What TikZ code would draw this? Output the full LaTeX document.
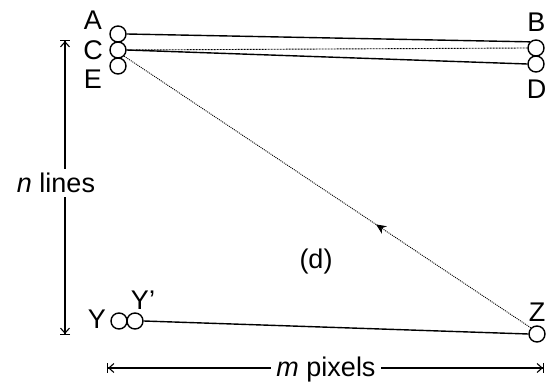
\documentclass[tikz,border=0pt]{standalone}
\usepackage{fontspec}
\setmainfont{Liberation Sans}
\usetikzlibrary{arrows.meta,decorations.markings}
\begin{document}
\begin{tikzpicture}[x=1pt,y=-1pt,
  pin/.style={circle,draw,line width=1.4pt,minimum size=16pt,inner sep=0pt},
  lbl/.style={font=\fontsize{27}{30}\selectfont,inner sep=0pt},
  wire/.style={line width=1.4pt},
  dim/.style={line width=1.1pt,{Bar[width=10pt]Straight Barb[length=5pt,width=9pt]}-{Straight Barb[length=5pt,width=9pt]Bar[width=10pt]}}]
\useasboundingbox (0,0) rectangle (547,387);
\node[pin] (A) at (118,34) {};
\node[pin] (C) at (118,50) {};
\node[pin] (E) at (118,66) {};
\node[pin] (B) at (536,48) {};
\node[pin] (D) at (536,64) {};
\node[pin] (Y) at (119,321) {};
\node[pin] (Yp) at (135,321) {};
\node[pin] (Z) at (537,334) {};
\node[lbl] (lA) at (93,20) {A};
\node[lbl] (lC) at (93,50) {C};
\node[lbl] (lE) at (93,79) {E};
\node[lbl] (lB) at (536.5,22) {B};
\node[lbl] (lD) at (536.5,89) {D};
\node[lbl] (lY) at (97,319) {Y};
\node[lbl] (lYp) at (143,300) {Y\char"0027};
\node[lbl] (lZ) at (537,312) {Z};
\node[lbl] (ld) at (316,262) {(d)};
\coordinate (vt) at (65,40);
\coordinate (vb) at (65,335);
\coordinate (hl) at (107,368);
\coordinate (hr) at (544,368);
\draw[wire] (A.east) -- (B.north west);
\draw[wire] (C.east) -- (D.west);
\draw[line width=0.9pt,dash pattern=on 2pt off 1pt] (C.east) -- (B.west);
\draw[line width=0.9pt,dash pattern=on 1pt off 1pt,
  postaction={decorate},decoration={markings,mark=at position 0.64 with {\arrow{Stealth[length=10pt,width=9pt,reversed]}}}]
  (C.south east) -- (Z.north west);
\draw[wire] (Yp.east) -- (Z.west);
\draw[dim] (vt) -- (vb);
\draw[dim] (hl) -- (hr);
\node[lbl,fill=white,inner sep=4pt,anchor=base] (nl) at (56,193) {\textit{n} lines};
\node[lbl,fill=white,inner sep=5pt,anchor=base] (mp) at (326,377) {\textit{m} pixels};
\end{tikzpicture}
\end{document}
